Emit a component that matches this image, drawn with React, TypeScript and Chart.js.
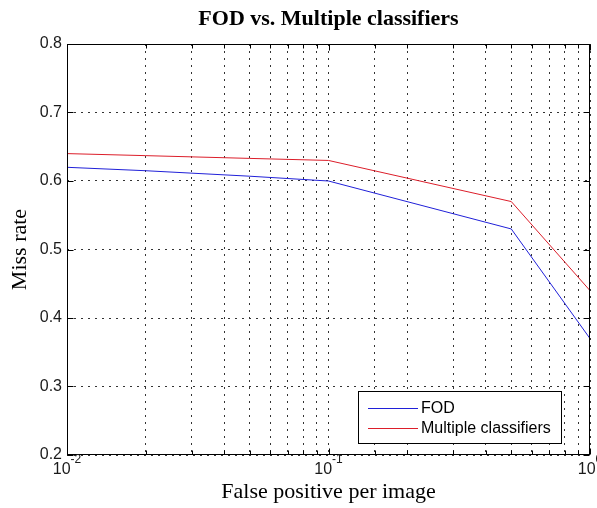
import React, { useEffect, useRef } from "react";
import { Chart, registerables } from "chart.js";

Chart.register(...registerables);

// ---- data ----
const falsePositives = [0.01, 0.02, 0.05, 0.1, 0.5, 1];
const fodMissRate = [0.62, 0.615, 0.607, 0.6, 0.53, 0.37];
const multiMissRate = [0.64, 0.637, 0.633, 0.63, 0.57, 0.44];
const seriesLabels = ["FOD", "Multiple classifiers"];
const seriesColors = ["#2020d8", "#dc1e2a"];
const xTickValues = [0.01, 0.1, 1];
const xTickBase = "10";
const xTickExponents = ["-2", "-1", "0"];
const yTickMin = 0.2;
const yTickMax = 0.8;
const yTickStep = 0.1;
const chartTitle = "FOD vs. Multiple classifiers";
const xTitle = "False positive per image";
const yTitle = "Miss rate";

const SANS = "'Liberation Sans', Arial, sans-serif";
const SERIF = "'Liberation Serif', 'Times New Roman', serif";

const isMajorLog = (v: number) => {
  const e = Math.floor(Math.log10(v) + 1e-9);
  const m = v / Math.pow(10, e);
  return Math.abs(m - 1) < 1e-6;
};

const matlabPlugin = {
  id: "matlabDecor",
  afterDraw(chart: any) {
    const { ctx, chartArea: a, scales } = chart;
    const x = scales.x;
    const y = scales.y;
    ctx.save();
    ctx.strokeStyle = "#000";
    ctx.lineWidth = 1;
    const L = Math.round(a.left) + 0.5;
    const R = Math.round(a.right) - 0.5;
    const T = Math.round(a.top) + 0.5;
    const B = Math.round(a.bottom) - 0.5;
    // inward tick marks
    ctx.beginPath();
    x.ticks.forEach((t: any) => {
      const px = Math.round(x.getPixelForValue(t.value)) + 0.5;
      const len = isMajorLog(t.value) ? 6 : 4;
      ctx.moveTo(px, B);
      ctx.lineTo(px, B - len);
      ctx.moveTo(px, T);
      ctx.lineTo(px, T + len);
    });
    y.ticks.forEach((t: any) => {
      const py = Math.round(y.getPixelForValue(t.value)) + 0.5;
      ctx.moveTo(L, py);
      ctx.lineTo(L + 6, py);
      ctx.moveTo(R, py);
      ctx.lineTo(R - 6, py);
    });
    ctx.stroke();
    // axes box
    ctx.strokeRect(L, T, R - L, B - T);

    // x tick labels with superscript exponent
    ctx.fillStyle = "#1a1a1a";
    ctx.textBaseline = "alphabetic";
    ctx.textAlign = "left";
    xTickValues.forEach((v, i) => {
      const px = x.getPixelForValue(v);
      ctx.font = `16px ${SANS}`;
      const wb = ctx.measureText(xTickBase).width;
      ctx.font = `12px ${SANS}`;
      const we = ctx.measureText(xTickExponents[i]).width;
      const start = px - (wb + we) / 2;
      ctx.font = `16px ${SANS}`;
      ctx.fillText(xTickBase, start, a.bottom + 19);
      ctx.font = `12px ${SANS}`;
      ctx.fillText(xTickExponents[i], start + wb, a.bottom + 8);
    });

    // legend box (bottom-right inside axes)
    const lx = a.right - 232;
    const ly = a.bottom - 64;
    const lw = 203;
    const lh = 52;
    ctx.fillStyle = "#fff";
    ctx.fillRect(lx, ly, lw, lh);
    ctx.strokeStyle = "#000";
    ctx.strokeRect(Math.round(lx) + 0.5, Math.round(ly) + 0.5, lw, lh);
    ctx.font = `16px ${SANS}`;
    ctx.textBaseline = "middle";
    chart.data.datasets.forEach((ds: any, i: number) => {
      const yy = Math.round(ly + 17 + i * 20) + 0.5;
      ctx.strokeStyle = ds.borderColor;
      ctx.beginPath();
      ctx.moveTo(lx + 10, yy);
      ctx.lineTo(lx + 60, yy);
      ctx.stroke();
      ctx.fillStyle = "#000";
      ctx.fillText(ds.label, lx + 63, yy);
    });
    ctx.restore();
  },
};

export default function App() {
  const canvasRef = useRef<HTMLCanvasElement | null>(null);

  useEffect(() => {
    document.body.style.margin = "0";
    const canvas = canvasRef.current;
    if (!canvas) return;
    const makeData = (vals: number[]) =>
      falsePositives.map((fp, i) => ({ x: fp, y: vals[i] }));
    const chart = new Chart(canvas, {
      type: "line",
      data: {
        datasets: [
          {
            label: seriesLabels[0],
            data: makeData(fodMissRate),
            borderColor: seriesColors[0],
            backgroundColor: seriesColors[0],
            borderWidth: 1,
            pointRadius: 0,
            tension: 0,
          },
          {
            label: seriesLabels[1],
            data: makeData(multiMissRate),
            borderColor: seriesColors[1],
            backgroundColor: seriesColors[1],
            borderWidth: 1,
            pointRadius: 0,
            tension: 0,
          },
        ],
      },
      options: {
        responsive: false,
        animation: false,
        devicePixelRatio: 1,
        layout: { padding: { left: 0, right: 7, top: 0, bottom: 0 } },
        plugins: {
          legend: { display: false },
          tooltip: { enabled: false },
          title: {
            display: true,
            text: chartTitle,
            fullSize: false,
            color: "#000",
            font: { family: SERIF, size: 22, weight: "bold" },
            padding: { top: 6, bottom: 11.6 },
          },
        },
        scales: {
          x: {
            type: "logarithmic",
            min: 0.01,
            max: 1,
            ticks: { display: false },
            grid: { color: "#333", drawTicks: false, lineWidth: 1 },
            border: { display: false, dash: [2, 5] },
            title: {
              display: true,
              text: xTitle,
              color: "#000",
              font: { family: SERIF, size: 22 },
              padding: { top: 0, bottom: 3 },
            },
            afterFit: (s: any) => {
              s.height = 53;
            },
          },
          y: {
            type: "linear",
            min: yTickMin,
            max: yTickMax,
            ticks: {
              stepSize: yTickStep,
              padding: 5,
              color: "#1a1a1a",
              font: { family: SANS, size: 16 },
              callback: (v: any) => Number(v).toFixed(1),
            },
            grid: { color: "#333", drawTicks: false, lineWidth: 1 },
            border: { display: false, dash: [2, 5] },
            title: {
              display: true,
              text: yTitle,
              color: "#000",
              font: { family: SERIF, size: 22 },
              padding: { top: 7, bottom: 0 },
            },
            afterFit: (s: any) => {
              s.width = 67;
            },
          },
        },
      },
      plugins: [matlabPlugin],
    });
    return () => chart.destroy();
  }, []);

  return (
    <div style={{ width: 597, height: 508, background: "#fff" }}>
      <canvas ref={canvasRef} width={597} height={508} />
    </div>
  );
}
